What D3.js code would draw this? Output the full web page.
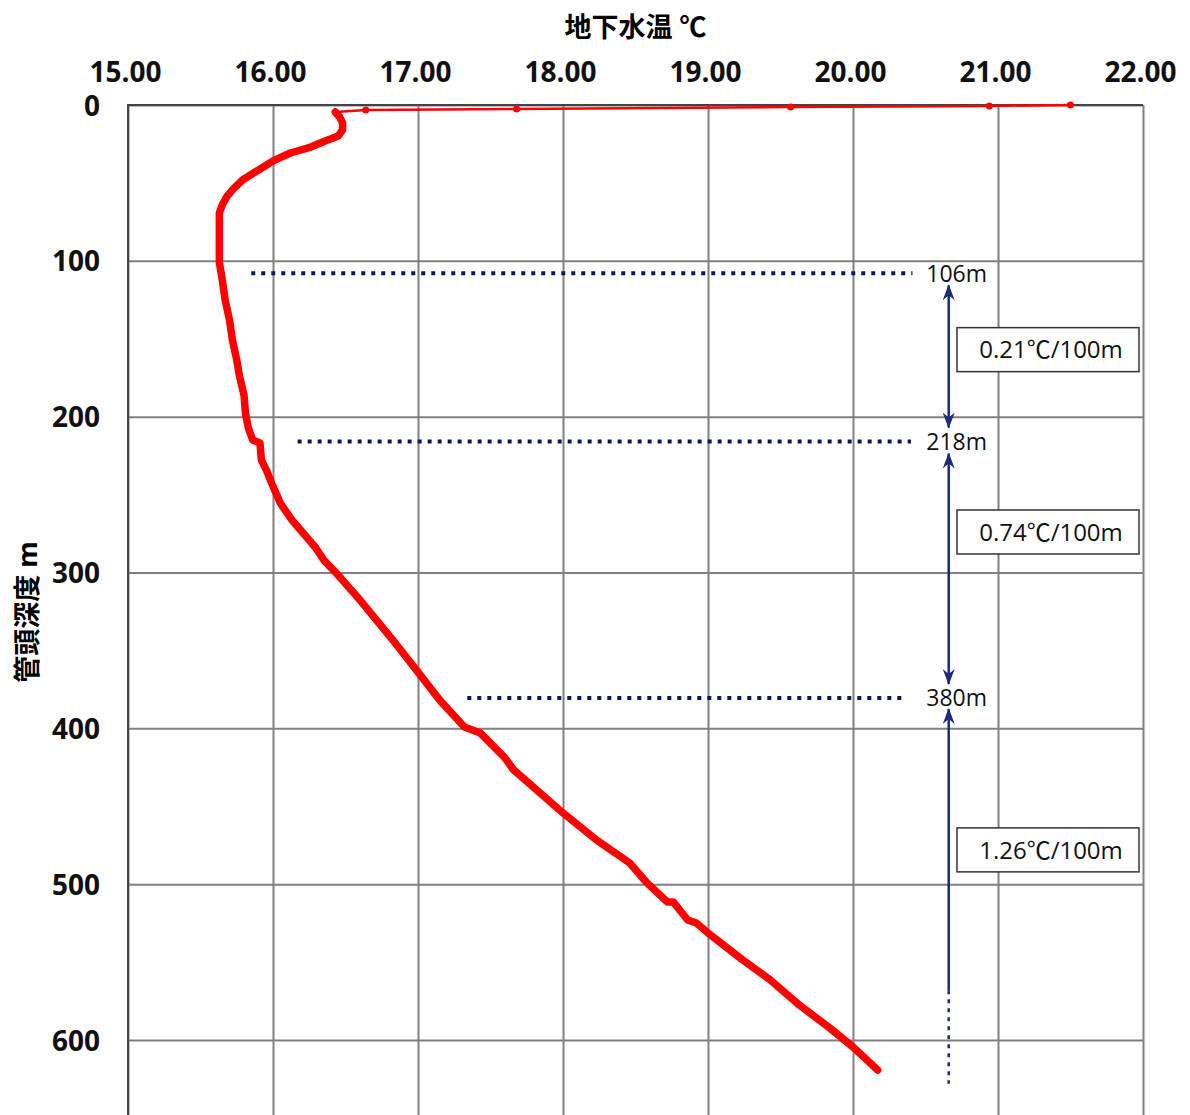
<!DOCTYPE html>
<html>
<head>
<meta charset="utf-8">
<style>
    body { margin: 0; background: #fff; }
    svg { display: block; font-family: "Open Sans", "Noto Sans CJK JP", sans-serif; }
</style>
</head>
<body>
    <svg id="chart" width="1190" height="1115"></svg>
</body>
<script src="https://d3js.org/d3.v7.min.js"></script>
<script>
    // temperature (°C) / depth (m) readings
    let surfaceTemp = [21.50, 20.94, 19.57, 17.68, 16.64, 16.43];
    let surfaceDepth = [0, 0.6, 1.3, 2.6, 3.2, 4.5];

    let profileTemp = [16.43, 16.46, 16.48, 16.48, 16.45, 16.36, 16.26, 16.12, 16.00, 15.90,
        15.79, 15.72, 15.68, 15.65, 15.63, 15.63, 15.63, 15.63, 15.65, 15.67,
        15.70, 15.72, 15.75, 15.77, 15.80, 15.81, 15.83, 15.86, 15.91, 15.92,
        15.96, 15.99, 16.05, 16.13, 16.19, 16.29, 16.35, 16.43, 16.60, 16.81,
        17.00, 17.15, 17.32, 17.43, 17.60, 17.66, 18.00, 18.23, 18.46, 18.58,
        18.72, 18.76, 18.86, 18.92, 19.00, 19.24, 19.43, 19.63, 19.84, 20.00, 20.17];
    let profileDepth = [4.5, 7.7, 11.6, 16.0, 19.9, 23.1, 27.0, 30.8, 35.9, 41.7,
        48.1, 54.5, 59.0, 64.2, 69.3, 80.2, 93.1, 100.8, 112.3, 125.1,
        138.0, 150.8, 163.6, 174.5, 186.1, 197.7, 207.3, 215.0, 216.9, 227.8,
        235.5, 242.6, 255.4, 266.3, 272.7, 283.6, 292.0, 299.7, 317.7, 341.4,
        363.9, 381.9, 399.2, 403.0, 419.0, 426.7, 454.3, 471.6, 486.4, 499.2,
        511.4, 511.4, 523.0, 524.9, 531.3, 548.7, 561.5, 577.6, 592.3, 604.5, 619.3];

    let xTicks = [15, 16, 17, 18, 19, 20, 21, 22];
    let yTicks = [0, 100, 200, 300, 400, 500, 600];

    // boundary annotations
    let markDepth = [108, 216, 380.5];
    let markLabel = ["106m", "218m", "380m"];
    let markLineStart = [15.85, 16.17, 17.34];
    let markLineEnd = [20.41, 20.40, 20.36];
    let arrowTemp = 20.66;
    let gradText = ["0.21℃/100m", "0.74℃/100m", "1.26℃/100m"];
    let gradBoxDepth = [157, 274, 478];
    let lastArrowSolidEnd = 568;
    let lastArrowDottedEnd = 628;

    let svg = d3.select("#chart");
    let plotL = 128, plotR = 1143, plotT = 105, plotB = 1115;

    let x = d3.scaleLinear().domain([15, 22]).range([plotL, plotR]);
    let y = d3.scaleLinear().domain([0, 600]).range([plotT, 1040]);

    let navy = "#0b1a55";
    let arrowCol = "#1c2a78";

    // grid + tick labels
    let xAxis = d3.axisTop(x)
        .tickValues(xTicks)
        .tickFormat(d3.format(".2f"))
        .tickSize(-(plotB - plotT))
        .tickPadding(23);
    let gx = svg.append("g")
        .attr("transform", `translate(0, ${plotT})`)
        .call(xAxis);
    gx.select(".domain").remove();
    gx.selectAll("line").attr("stroke", "#808080").attr("stroke-width", 2);
    gx.selectAll("text")
        .attr("dx", -3)
        .style("font-family", "'Open Sans', sans-serif")
        .style("font-size", "28px").style("font-weight", "bold").attr("fill", "#111");

    let yAxis = d3.axisLeft(y)
        .tickValues(yTicks)
        .tickSize(-(plotR - plotL))
        .tickPadding(28);
    let gy = svg.append("g")
        .attr("transform", `translate(${plotL}, 0)`)
        .call(yAxis);
    gy.select(".domain").remove();
    gy.selectAll("line").attr("stroke", "#808080").attr("stroke-width", 2);
    gy.selectAll("text")
        .attr("dy", "0.36em")
        .style("font-family", "'Open Sans', sans-serif")
        .style("font-size", "28px").style("font-weight", "bold").attr("fill", "#111");

    // frame (top + left)
    svg.append("path")
        .attr("d", `M${plotL},${plotB}V${plotT}H${plotR}`)
        .attr("fill", "none").attr("stroke", "#444").attr("stroke-width", 2);

    // titles
    svg.append("text")
        .attr("x", (plotL + plotR) / 2).attr("y", 37)
        .attr("text-anchor", "middle")
        .style("font-size", "27px").style("font-weight", "bold")
        .text("地下水温 ℃");
    svg.append("text")
        .attr("transform", "translate(37, 612) rotate(-90)")
        .attr("text-anchor", "middle")
        .style("font-size", "27px").style("font-weight", "bold")
        .text("管頭深度 m");

    // temperature curve
    let line = d3.line().x((d) => x(d[0])).y((d) => y(d[1]));
    let surface = surfaceTemp.map((t, i) => [t, surfaceDepth[i]]);
    let profile = profileTemp.map((t, i) => [t, profileDepth[i]]);

    svg.append("path")
        .attr("d", line(surface))
        .attr("fill", "none").attr("stroke", "#ff0000").attr("stroke-width", 2.5);
    svg.selectAll(".dot").data(surface).enter()
        .append("circle")
        .attr("cx", (d) => x(d[0])).attr("cy", (d) => y(d[1]))
        .attr("r", 3.5).attr("fill", "#ff0000");
    svg.append("path")
        .attr("d", line(profile))
        .attr("fill", "none").attr("stroke", "#ff0000").attr("stroke-width", 7.5)
        .attr("stroke-linejoin", "round").attr("stroke-linecap", "round");

    // dotted boundary lines + labels
    markDepth.forEach((d, i) => {
        svg.append("line")
            .attr("x1", x(markLineStart[i])).attr("x2", x(markLineEnd[i]))
            .attr("y1", y(d)).attr("y2", y(d))
            .attr("stroke", navy).attr("stroke-width", 4)
            .attr("stroke-dasharray", "4 6");
        svg.append("text")
            .attr("x", x(arrowTemp) + 8).attr("y", y(d))
            .attr("dy", "0.36em")
            .attr("text-anchor", "middle")
            .style("font-size", "23px")
            .attr("fill", "#111")
            .text(markLabel[i]);
    });

    // arrow heads (point along +x, reversed at start)
    let defs = svg.append("defs");
    defs.append("marker")
        .attr("id", "head")
        .attr("viewBox", "0 0 16 12")
        .attr("refX", 15).attr("refY", 6)
        .attr("markerWidth", 16).attr("markerHeight", 12)
        .attr("markerUnits", "userSpaceOnUse")
        .attr("orient", "auto-start-reverse")
        .append("path")
        .attr("d", "M16,6 L0,0 L5,6 L0,12 Z")
        .attr("fill", arrowCol);

    let ax = x(arrowTemp);
    // arrows between boundaries
    for (let i = 0; i < markDepth.length - 1; i++) {
        svg.append("line")
            .attr("x1", ax).attr("x2", ax)
            .attr("y1", y(markDepth[i]) + 12).attr("y2", y(markDepth[i + 1]) - 14)
            .attr("stroke", arrowCol).attr("stroke-width", 2.5)
            .attr("marker-start", "url(#head)")
            .attr("marker-end", "url(#head)");
    }
    svg.append("line")
        .attr("x1", ax).attr("x2", ax)
        .attr("y1", y(markDepth[2]) + 11).attr("y2", y(lastArrowSolidEnd))
        .attr("stroke", arrowCol).attr("stroke-width", 2.5)
        .attr("marker-start", "url(#head)");
    svg.append("line")
        .attr("x1", ax).attr("x2", ax)
        .attr("y1", y(lastArrowSolidEnd)).attr("y2", y(lastArrowDottedEnd))
        .attr("stroke", arrowCol).attr("stroke-width", 2.5)
        .attr("stroke-dasharray", "4 5");

    // gradient boxes
    gradText.forEach((t, i) => {
        let cy = y(gradBoxDepth[i]);
        svg.append("rect")
            .attr("x", 957).attr("y", cy - 22)
            .attr("width", 182).attr("height", 44)
            .attr("fill", "#fff").attr("stroke", "#333").attr("stroke-width", 1.5);
        svg.append("text")
            .attr("x", 1051).attr("y", cy)
            .attr("dy", "0.36em")
            .attr("text-anchor", "middle")
            .style("font-size", "24px")
            .attr("fill", "#111")
            .text(t);
    });
</script>
</html>
